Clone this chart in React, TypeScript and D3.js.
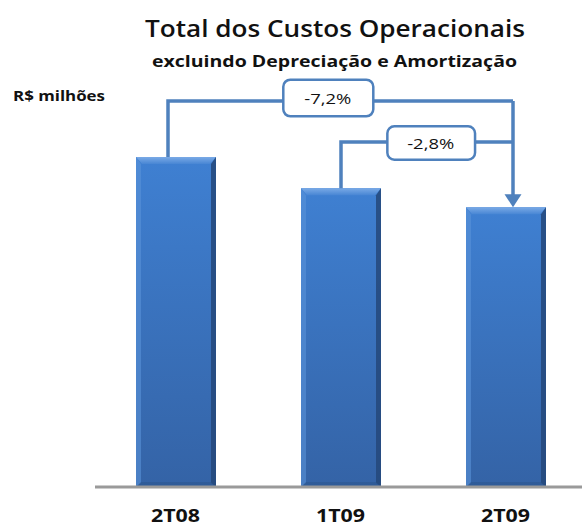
import { useEffect, useRef } from 'react';
import * as d3 from 'd3';

// R$ milhões (valores estimados a partir das alturas das barras)
const categories = ['2T08', '1T09', '2T09'];
const values = [512, 489, 475];
const changes = [
  { from: '2T08', to: '2T09', label: '-7,2%' },
  { from: '1T09', to: '2T09', label: '-2,8%' },
];

const W = 582;
const H = 527;
const BLUE = '#4F81BD';
const FONT = '"Open Sans", sans-serif';

export default function App() {
  const svgRef = useRef<SVGSVGElement>(null);

  useEffect(() => {
    const svg = d3.select(svgRef.current);
    svg.selectAll('*').remove();

    const baseY = 487;
    const x = d3.scalePoint<string>().domain(categories).range([176, 506]);
    // eixo não começa em zero no original
    const y = d3.scaleLinear().domain([269, 512]).range([baseY, 157]);
    const barW = 80;

    const defs = svg.append('defs');
    const g1 = defs.append('linearGradient').attr('id', 'barFill').attr('x1', 0).attr('y1', 0).attr('x2', 0).attr('y2', 1);
    g1.append('stop').attr('offset', '0%').attr('stop-color', '#3F80D2');
    g1.append('stop').attr('offset', '100%').attr('stop-color', '#3463A6');
    const g2 = defs.append('linearGradient').attr('id', 'bevelTop').attr('x1', 0).attr('y1', 0).attr('x2', 0).attr('y2', 1);
    g2.append('stop').attr('offset', '0%').attr('stop-color', '#7AAAE6');
    g2.append('stop').attr('offset', '100%').attr('stop-color', '#4886D4');

    // Títulos (o original está esticado na horizontal)
    svg.append('text')
      .attr('x', 145).attr('y', 37)
      .attr('textLength', 380)
      .attr('lengthAdjust', 'spacingAndGlyphs')
      .attr('font-family', FONT)
      .attr('font-weight', 600)
      .attr('font-size', 24)
      .attr('fill', '#111')
      .text('Total dos Custos Operacionais');
    svg.append('text')
      .attr('x', 152).attr('y', 67)
      .attr('textLength', 365)
      .attr('lengthAdjust', 'spacingAndGlyphs')
      .attr('font-family', FONT)
      .attr('font-weight', 700)
      .attr('font-size', 16.5)
      .attr('fill', '#111')
      .text('excluindo Depreciação e Amortização');
    svg.append('text')
      .attr('x', 13).attr('y', 101)
      .attr('textLength', 92)
      .attr('lengthAdjust', 'spacingAndGlyphs')
      .attr('font-family', FONT)
      .attr('font-weight', 700)
      .attr('font-size', 15)
      .attr('fill', '#111')
      .text('R$ milhões');

    // Barras
    const bars = svg.append('g');
    categories.forEach((c, i) => {
      const x0 = (x(c) as number) - barW / 2;
      const y0 = y(values[i]);
      const h = baseY - y0;
      const b = bars.append('g');
      b.append('rect').attr('x', x0).attr('y', y0).attr('width', barW).attr('height', h).attr('fill', 'url(#barFill)');
      // bisel superior
      b.append('path')
        .attr('d', `M${x0},${y0}L${x0 + barW},${y0}L${x0 + barW - 6},${y0 + 7}L${x0 + 6},${y0 + 7}Z`)
        .attr('fill', 'url(#bevelTop)');
      // bisel esquerdo
      b.append('path')
        .attr('d', `M${x0},${y0}L${x0 + 5},${y0 + 7}L${x0 + 5},${baseY - 4}L${x0},${baseY}Z`)
        .attr('fill', '#5A92D8').attr('opacity', 0.6);
      // bisel direito
      b.append('path')
        .attr('d', `M${x0 + barW},${y0}L${x0 + barW - 5},${y0 + 7}L${x0 + barW - 5},${baseY - 4}L${x0 + barW},${baseY}Z`)
        .attr('fill', '#24487A').attr('opacity', 0.85);
      // bisel inferior
      b.append('path')
        .attr('d', `M${x0},${baseY}L${x0 + 5},${baseY - 5}L${x0 + barW - 5},${baseY - 5}L${x0 + barW},${baseY}Z`)
        .attr('fill', '#2D5690').attr('opacity', 0.6);
    });

    // Eixo
    svg.append('line')
      .attr('x1', 95).attr('x2', W)
      .attr('y1', baseY).attr('y2', baseY)
      .attr('stroke', '#9A9A9A').attr('stroke-width', 3);

    svg.append('g')
      .selectAll('text')
      .data(categories)
      .join('text')
      .attr('x', d => (x(d) as number) - 25)
      .attr('y', 522)
      .attr('textLength', 49)
      .attr('lengthAdjust', 'spacingAndGlyphs')
      .attr('font-family', FONT)
      .attr('font-weight', 700)
      .attr('font-size', 18)
      .attr('fill', '#111')
      .text(d => d);

    // Setas de variação
    const idx = (c: string) => categories.indexOf(c);
    const arrowX = (x('2T09') as number) + 7;
    const levels = [101, 142];
    const startOffset = [-8, 0];
    const boxes = [
      { cx: 328.3, cy: 98, w: 90, h: 36.6 },
      { cx: 431.2, cy: 143, w: 87.7, h: 33.4 },
    ];
    const ann = svg.append('g');
    changes.forEach((d, i) => {
      const sx = (x(d.from) as number) + startOffset[i];
      const sy = y(values[idx(d.from)]);
      const ly = levels[i];
      ann.append('path')
        .attr('d', `M${sx},${sy}V${ly}H${arrowX}`)
        .attr('fill', 'none')
        .attr('stroke', BLUE)
        .attr('stroke-width', 3.5);
      const bx = boxes[i];
      ann.append('rect')
        .attr('x', bx.cx - bx.w / 2).attr('y', bx.cy - bx.h / 2)
        .attr('width', bx.w).attr('height', bx.h)
        .attr('rx', 7)
        .attr('fill', '#fff')
        .attr('stroke', BLUE)
        .attr('stroke-width', 2.5);
      ann.append('text')
        .attr('x', bx.cx - 24).attr('y', bx.cy + 6.2)
        .attr('textLength', 47)
        .attr('lengthAdjust', 'spacingAndGlyphs')
        .attr('font-family', FONT)
        .attr('font-size', 15)
        .attr('fill', '#111')
        .text(d.label);
    });
    const tipY = y(values[idx('2T09')]);
    ann.append('path')
      .attr('d', `M${arrowX},${levels[0]}V${tipY - 12}`)
      .attr('stroke', BLUE).attr('stroke-width', 3.5);
    ann.append('path')
      .attr('d', `M${arrowX - 8.5},${tipY - 13}H${arrowX + 8.5}L${arrowX},${tipY}Z`)
      .attr('fill', BLUE);
  }, []);

  return (
    <svg
      ref={svgRef}
      width={W}
      height={H}
      style={{ position: 'absolute', left: 0, top: 0, background: '#fff' }}
    />
  );
}
